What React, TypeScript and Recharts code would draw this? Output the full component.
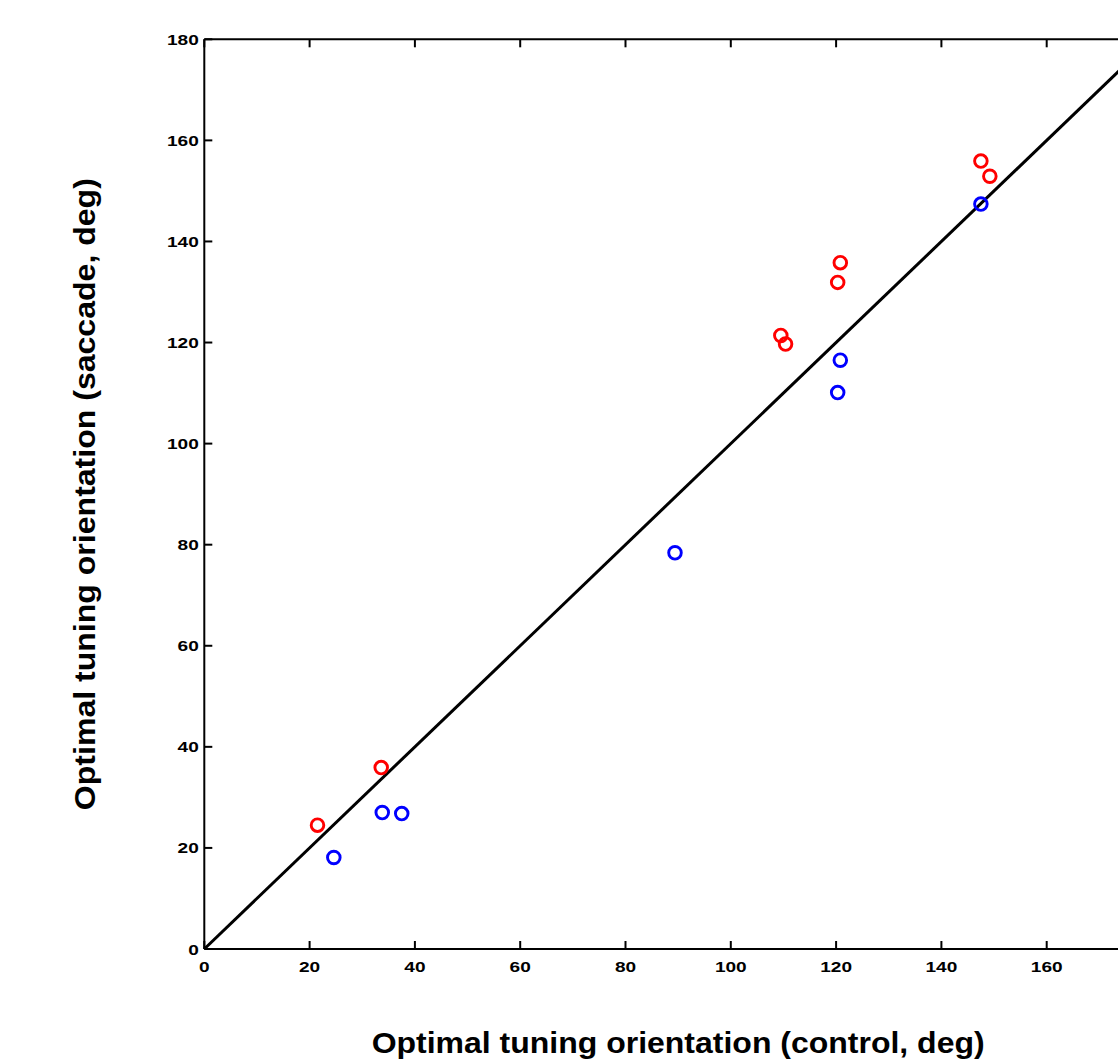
import React from "react";
import { ScatterChart, Scatter, XAxis, YAxis, ReferenceLine } from "recharts";

const redPoints = [
  { x: 21.5, y: 24.5 },
  { x: 33.6, y: 35.9 },
  { x: 109.5, y: 121.4 },
  { x: 110.4, y: 119.7 },
  { x: 120.3, y: 131.9 },
  { x: 120.8, y: 135.8 },
  { x: 147.5, y: 155.9 },
  { x: 149.2, y: 152.9 },
];

const bluePoints = [
  { x: 24.6, y: 18.1 },
  { x: 33.8, y: 27.0 },
  { x: 37.5, y: 26.8 },
  { x: 89.4, y: 78.4 },
  { x: 120.3, y: 110.1 },
  { x: 120.8, y: 116.5 },
  { x: 147.5, y: 147.4 },
];

const diagonal = [
  { x: 0, y: 0 },
  { x: 180, y: 180 },
];

const xTicks = [0, 20, 40, 60, 80, 100, 120, 140, 160];
const yTicks = [0, 20, 40, 60, 80, 100, 120, 140, 160, 180];
const domain: [number, number] = [0, 180];

const xTitle = "Optimal tuning orientation (control, deg)";
const yTitle = "Optimal tuning orientation (saccade, deg)";

const FONT = "'Liberation Sans', Arial, Helvetica, sans-serif";
const TICK_LEN = 8;
const DIGIT_W = 10.6;

const BottomTick = (props: any) => {
  const { x, y, payload } = props;
  const s = String(payload.value);
  return (
    <g>
      <line x1={x} y1={y} x2={x} y2={y - TICK_LEN} stroke="#000" strokeWidth={2} />
      <text
        x={x}
        y={y + 23}
        textAnchor="middle"
        fontFamily={FONT}
        fontWeight="bold"
        fontSize={15.4}
        fill="#000"
        textLength={s.length * DIGIT_W}
        lengthAdjust="spacingAndGlyphs"
      >
        {s}
      </text>
    </g>
  );
};

const TopTick = (props: any) => {
  const { x, y } = props;
  return <line x1={x} y1={y} x2={x} y2={y + TICK_LEN} stroke="#000" strokeWidth={2} />;
};

const LeftTick = (props: any) => {
  const { x, y, payload } = props;
  const s = String(payload.value);
  return (
    <g>
      <line x1={x} y1={y} x2={x + TICK_LEN} y2={y} stroke="#000" strokeWidth={2} />
      <text
        x={x - 5.5}
        y={y}
        dy="0.36em"
        textAnchor="end"
        fontFamily={FONT}
        fontWeight="bold"
        fontSize={15.4}
        fill="#000"
        textLength={s.length * DIGIT_W}
        lengthAdjust="spacingAndGlyphs"
      >
        {s}
      </text>
    </g>
  );
};

const RightTick = (props: any) => {
  const { x, y } = props;
  return <line x1={x} y1={y} x2={x - TICK_LEN} y2={y} stroke="#000" strokeWidth={2} />;
};

const makeCircle = (color: string) => (props: any) => {
  const { cx, cy } = props;
  return <circle cx={cx} cy={cy} r={6.3} fill="none" stroke={color} strokeWidth={2.9} />;
};

const XTitle = (props: any) => {
  const vb = props.viewBox;
  return (
    <text
      x={vb.x + vb.width / 2}
      y={vb.y + 104}
      textAnchor="middle"
      fontFamily={FONT}
      fontWeight="bold"
      fontSize={30}
      fill="#000"
      textLength={613}
      lengthAdjust="spacingAndGlyphs"
    >
      {xTitle}
    </text>
  );
};

const YTitle = (props: any) => {
  const vb = props.viewBox;
  const cx = 95;
  const cy = vb.y + vb.height / 2;
  return (
    <text
      x={cx}
      y={cy}
      transform={`rotate(-90, ${cx}, ${cy})`}
      textAnchor="middle"
      fontFamily={FONT}
      fontWeight="bold"
      fontSize={30}
      fill="#000"
      textLength={632}
      lengthAdjust="spacingAndGlyphs"
    >
      {yTitle}
    </text>
  );
};

const axisLine = { stroke: "#000", strokeWidth: 2 };

export default function App() {
  return (
    <div
      style={{
        position: "absolute",
        left: 0,
        top: 0,
        width: 1118,
        height: 1064,
        overflow: "hidden",
        background: "#fff",
      }}
    >
      <ScatterChart
        width={1173}
        height={1064}
        margin={{ top: 38.3, left: 203.3, right: 20, bottom: 114 }}
      >
        <XAxis
          xAxisId="b"
          type="number"
          dataKey="x"
          domain={domain}
          ticks={xTicks}
          orientation="bottom"
          height={1}
          tickSize={0}
          tickMargin={0}
          tickLine={false}
          axisLine={axisLine}
          tick={<BottomTick />}
          interval={0}
          allowDataOverflow
          label={{ content: <XTitle /> }}
        />
        <XAxis
          xAxisId="t"
          type="number"
          dataKey="x"
          domain={domain}
          ticks={xTicks}
          orientation="top"
          height={1}
          tickSize={0}
          tickMargin={0}
          tickLine={false}
          axisLine={axisLine}
          tick={<TopTick />}
          interval={0}
          allowDataOverflow
        />
        <YAxis
          yAxisId="l"
          type="number"
          dataKey="y"
          domain={domain}
          ticks={yTicks}
          orientation="left"
          width={1}
          tickSize={0}
          tickMargin={0}
          tickLine={false}
          axisLine={axisLine}
          tick={<LeftTick />}
          interval={0}
          allowDataOverflow
          label={{ content: <YTitle /> }}
        />
        <YAxis
          yAxisId="r"
          type="number"
          dataKey="y"
          domain={domain}
          ticks={yTicks}
          orientation="right"
          width={1}
          tickSize={0}
          tickMargin={0}
          tickLine={false}
          axisLine={axisLine}
          tick={<RightTick />}
          interval={0}
          allowDataOverflow
        />
        <ReferenceLine
          xAxisId="b"
          yAxisId="l"
          segment={diagonal}
          stroke="#000"
          strokeWidth={3}
          ifOverflow="visible"
        />
        <Scatter
          xAxisId="b"
          yAxisId="l"
          data={redPoints}
          shape={makeCircle("#ff0000")}
          isAnimationActive={false}
        />
        <Scatter
          xAxisId="b"
          yAxisId="l"
          data={bluePoints}
          shape={makeCircle("#0000ff")}
          isAnimationActive={false}
        />
      </ScatterChart>
    </div>
  );
}
